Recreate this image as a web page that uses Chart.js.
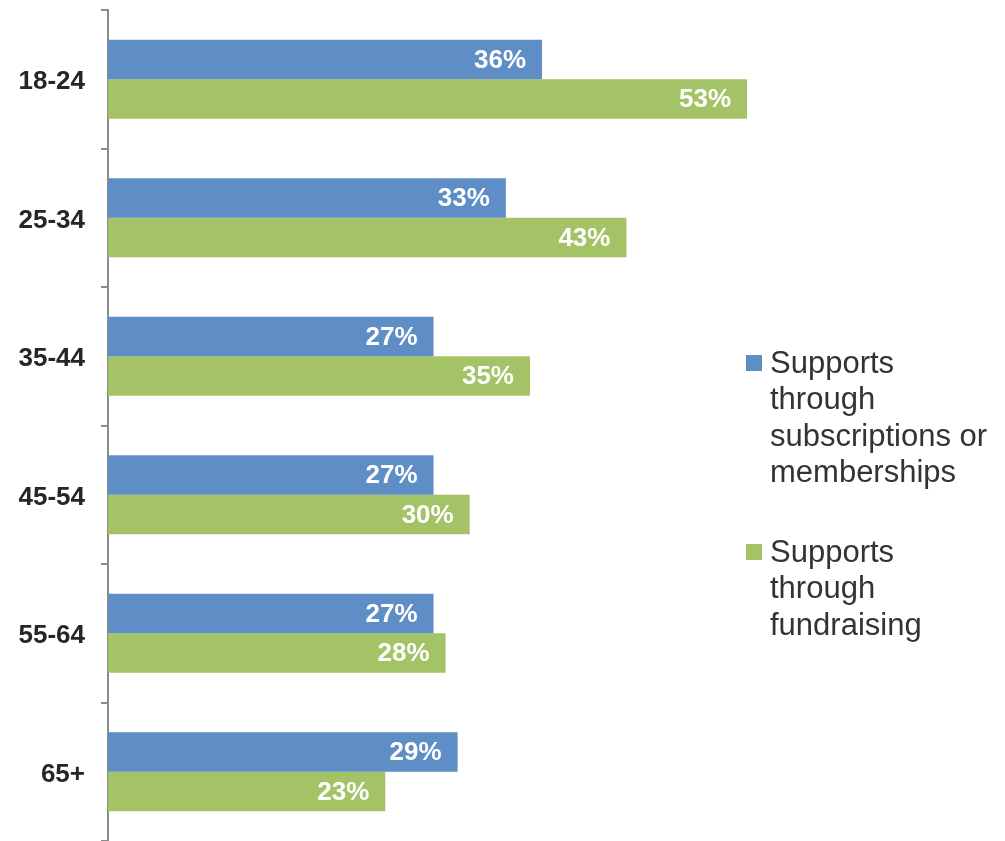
<!DOCTYPE html>
<html>
<head>
<meta charset="utf-8">
<script src="https://cdn.jsdelivr.net/npm/chart.js@4/dist/chart.umd.min.js"></script>
<style>
  html, body { margin: 0; padding: 0; background: #fff; }
  #wrap { width: 1005px; height: 841px; position: relative; }
</style>
</head>
<body>
<div id="wrap"><canvas id="chartCanvas"></canvas></div>
<script>
const ageGroups = ["18-24", "25-34", "35-44", "45-54", "55-64", "65+"];
const subscriptions = [36, 33, 27, 27, 27, 29];
const fundraising = [53, 43, 35, 30, 28, 23];
const legendLines = [
  ["Supports", "through", "subscriptions or", "memberships"],
  ["Supports", "through", "fundraising"],
];

const BLUE = "#5f8dc6";
const GREEN = "#a4c266";
const FONT = "'Liberation Sans', Arial, sans-serif";

// percentage labels inside the end of each bar
const barLabels = {
  id: "barLabels",
  afterDatasetsDraw(chart) {
    const ctx = chart.ctx;
    ctx.save();
    ctx.font = "bold 26px " + FONT;
    ctx.fillStyle = "#fff";
    ctx.textAlign = "right";
    ctx.textBaseline = "middle";
    chart.data.datasets.forEach((ds, i) => {
      chart.getDatasetMeta(i).data.forEach((bar, j) => {
        ctx.fillText(ds.data[j] + "%", bar.x - 16, bar.y + 1);
      });
    });
    ctx.restore();
  },
};

// legend on the right with wrapped text
const sideLegend = {
  id: "sideLegend",
  afterDraw(chart) {
    const ctx = chart.ctx;
    const x = chart.chartArea.right - 1;
    const starts = [363, 552];
    const lineH = 36.5;
    ctx.save();
    ctx.font = "31px " + FONT;
    ctx.textBaseline = "middle";
    ctx.textAlign = "left";
    chart.data.datasets.forEach((ds, i) => {
      const y0 = starts[i];
      ctx.fillStyle = ds.backgroundColor;
      ctx.fillRect(x, y0 - 8, 16, 16);
      ctx.fillStyle = "#333";
      legendLines[i].forEach((t, k) => ctx.fillText(t, x + 24, y0 + 1 + k * lineH));
    });
    ctx.restore();
  },
};

new Chart(document.getElementById("chartCanvas"), {
  type: "bar",
  data: {
    labels: ageGroups,
    datasets: [
      { label: "Supports through subscriptions or memberships", data: subscriptions, backgroundColor: BLUE },
      { label: "Supports through fundraising", data: fundraising, backgroundColor: GREEN },
    ],
  },
  options: {
    indexAxis: "y",
    responsive: true,
    maintainAspectRatio: false,
    animation: false,
    categoryPercentage: 0.57,
    barPercentage: 1.0,
    layout: { padding: { top: 10, right: 258, bottom: 0, left: 0 } },
    plugins: { legend: { display: false }, tooltip: { enabled: false } },
    scales: {
      x: { display: false, min: 0, max: 53 },
      y: {
        afterFit(scale) {
          scale.width = 108;
          scale.paddingTop = 0;
          scale.paddingBottom = 0;
        },
        border: { color: "#8c8c8c", width: 2 },
        grid: { drawOnChartArea: false, drawTicks: true, tickLength: 7, color: "#8c8c8c", lineWidth: 2 },
        ticks: { color: "#262626", font: { family: FONT, size: 26, weight: "bold" }, padding: 16, labelOffset: 3 },
      },
    },
  },
  plugins: [barLabels, sideLegend],
});
</script>
</body>
</html>
